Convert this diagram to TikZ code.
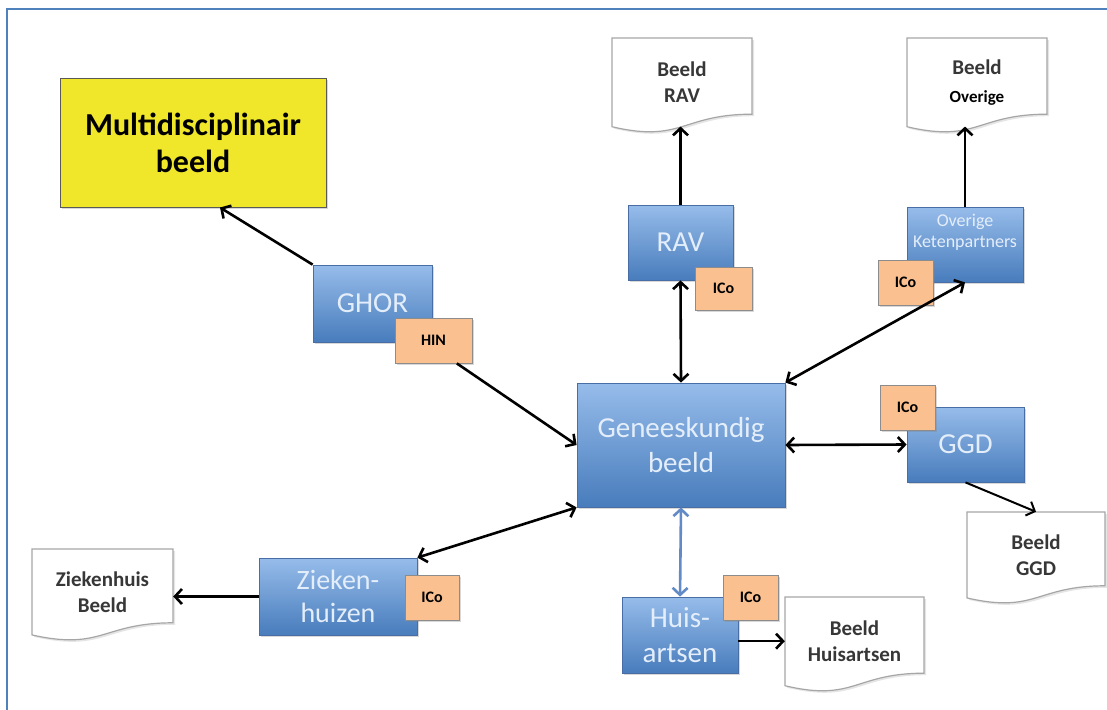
\documentclass[tikz,border=0pt]{standalone}
\usepackage{fontspec}
\setmainfont{Carlito}
\usetikzlibrary{arrows.meta,shadows,calc}

\definecolor{framecol}{RGB}{79,129,189}
\definecolor{bluetop}{RGB}{150,188,234}
\definecolor{bluebot}{RGB}{72,124,188}
\definecolor{blueline}{RGB}{72,110,165}
\definecolor{bluetext}{RGB}{228,238,250}
\definecolor{peach}{RGB}{250,192,144}
\definecolor{peachline}{RGB}{140,140,140}
\definecolor{yellowbox}{RGB}{240,231,42}
\definecolor{linkblue}{RGB}{98,138,198}
\definecolor{doctextcol}{RGB}{55,55,55}

% document shape: flat top, wavy bottom
\newcommand\docshape[6]{% name, centre x, top y, width, height, text
  \draw[docline] ({#2-#4/2},{#3}) -- ({#2+#4/2},{#3}) -- ({#2+#4/2},{#3+0.802*#5})
    .. controls ({#2},{#3+0.802*#5}) and ({#2},{#3+1.107*#5}) .. ({#2-#4/2},{#3+0.934*#5}) -- cycle;
  \node[doctext, minimum width=#4, minimum height={0.93*#5}] (#1) at ({#2},{#3+0.465*#5}) {#6};
}

\tikzset{
  bluebox/.style={draw=blueline, line width=0.8pt, top color=bluetop, bottom color=bluebot,
    text=bluetext, font=\fontsize{29}{35}\selectfont, align=center, inner sep=0pt,
    drop shadow={opacity=0.3, shadow xshift=2pt, shadow yshift=-2pt}},
  tagbox/.style={draw=peachline, line width=0.8pt, fill=peach, text=black,
    font=\fontsize{16}{18}\selectfont\bfseries, inner sep=0pt,
    minimum width=55, minimum height=45,
    drop shadow={opacity=0.3, shadow xshift=2pt, shadow yshift=-2pt}},
  docline/.style={draw=gray!70, line width=1.2pt, fill=white,
    drop shadow={opacity=0.2, shadow xshift=2pt, shadow yshift=-2pt}},
  doctext/.style={text=doctextcol, font=\fontsize{21}{26}\selectfont\bfseries,
    align=center, inner sep=0pt},
  tip/.tip={Straight Barb[length=7pt,width=15pt]},
  conn/.style={draw=black, line width=2.6pt, -tip},
  conn2/.style={draw=black, line width=2.6pt, tip-tip},
}

\begin{document}
\begin{tikzpicture}[x=1pt,y=-1pt]
\useasboundingbox (0,0) rectangle (1107,709);
\fill[white] (0,0) rectangle (1107,709);

% outer frame
\draw[framecol, line width=2.2pt] (7,730) -- (7,9) -- (1130,9);

% result box
\node[draw=gray!70!black, line width=1pt, fill=yellowbox, minimum width=266, minimum height=129,
  font=\fontsize{32}{37}\selectfont\bfseries, align=center, inner sep=0pt,
  drop shadow={opacity=0.3, shadow xshift=2pt, shadow yshift=-2pt}]
  (multi) at (193,142.5) {Multidisciplinair\\beeld};

% organisations
\node[bluebox, minimum width=119, minimum height=77] (ghor) at (372.5,303.5) {GHOR};
\node[bluebox, minimum width=105, minimum height=75] (rav) at (680.5,242.5) {RAV};
\node[bluebox, minimum width=116, minimum height=75,
  label={[yshift=12pt, text=bluetext, font=\fontsize{18}{21}\selectfont, align=center]center:Overige\\Ketenpartners}]
  (over) at (965,244.5) {};
\node[bluebox, minimum width=208, minimum height=124] (gen) at (681,445) {Geneeskundig\\beeld};
\node[bluebox, minimum width=117, minimum height=75] (ggd) at (965.5,444.5) {GGD};
\node[bluebox, minimum width=116, minimum height=76] (huis) at (680,635) {Huis-\\artsen};
\node[bluebox, minimum width=158, minimum height=77, font=\fontsize{28}{33}\selectfont] (zieken) at (338,596.5) {Zieken-\\huizen};

% coordinator tags
\node[tagbox, minimum width=77] (hin) at (433.5,340.5) {HIN};
\node[tagbox, minimum width=57, minimum height=43] (icorav) at (723.5,288.5) {ICo};
\node[tagbox] (icoover) at (905.5,282.5) {ICo};
\node[tagbox] (icoggd) at (907.5,407.5) {ICo};
\node[tagbox] (icohuis) at (750.5,597.5) {ICo};
\node[tagbox, minimum width=54] (icozieken) at (432,597.5) {ICo};

% pictures per partner
\docshape{drav}{682}{38}{140}{95}{Beeld\\RAV}
\docshape{dover}{977}{38}{140}{95}{Beeld\\[2pt]{\color{black}\fontsize{17}{20}\selectfont Overige}}
\docshape{dggd}{1036}{512}{138}{92}{Beeld\\GGD}
\docshape{dhuis}{854.5}{597}{139}{95}{Beeld\\Huisartsen}
\docshape{dzieken}{102.5}{549}{141}{92}{Ziekenhuis\\Beeld}

% connectors
\draw[conn] (ghor.north west) -- ($(multi.south)+(27,0)$);
\draw[conn] ($(hin.south)!0.6!(hin.south east)$) -- (gen.west);
\draw[conn2] (rav.south) -- (gen.north);
\draw[conn2] (over.south) -- (gen.north east);
\draw[conn2] (gen.east) -- (ggd.west);
\draw[conn2, draw=linkblue] (gen.south) -- (huis.north);
\draw[conn2] (gen.south west) -- (zieken.north east);
\draw[conn] (rav.north) -- (rav.north |- drav.south);
\draw[conn] (over.north) -- (over.north |- dover.south);
\draw[conn, line width=2pt] (ggd.south) -- (dggd.north);
\draw[conn] (huis.east |- dhuis.west) -- (dhuis.west);
\draw[conn] (zieken.west) -- (zieken.west -| dzieken.east);
\end{tikzpicture}
\end{document}
